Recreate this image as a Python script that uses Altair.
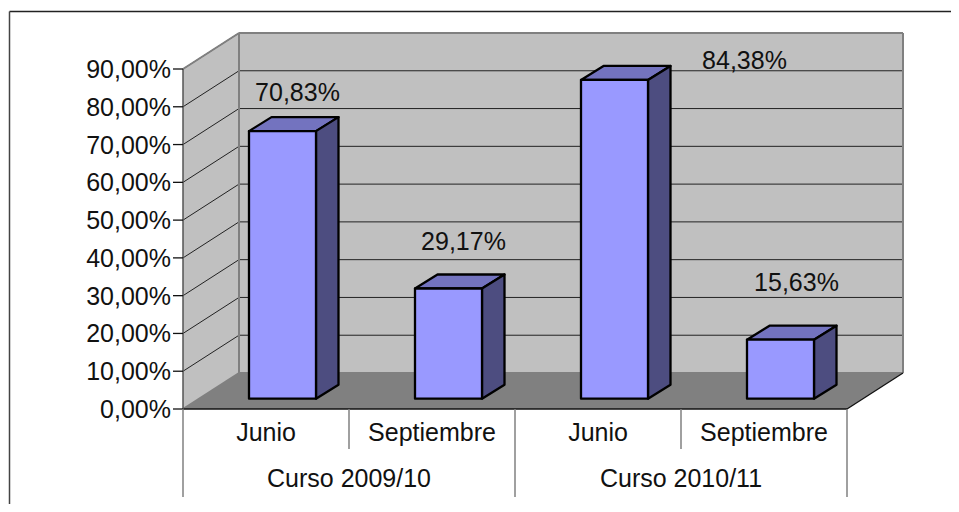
import altair as alt
import pandas as pd

GROUPS = ["Curso 2009/10", "Curso 2010/11"]
MONTHS = ["Junio", "Septiembre", "Junio", "Septiembre"]
VALUES = [70.83, 29.17, 84.38, 15.63]
VALUE_TEXT = ["70,83%", "29,17%", "84,38%", "15,63%"]
TICKS = [0, 10, 20, 30, 40, 50, 60, 70, 80, 90]
TICK_TEXT = ["0,00%", "10,00%", "20,00%", "30,00%", "40,00%", "50,00%", "60,00%", "70,00%", "80,00%", "90,00%"]

W, H = 943, 496
# scale layout, in pixels of the chart
X0, CAT = 175, 166
Y0, UNIT = 401, 340 / 90
DX, DY = 56 / CAT, 36 / UNIT            # wall depth in data units
BAR_W = 67 / CAT
BAR_SX, BAR_SY = 16.5 / CAT, 10.3 / UNIT   # bar offset from the front plane
BAR_DX, BAR_DY = 22.5 / CAT, 14 / UNIT     # bar depth
LABEL_OFF = [(15, -31), (15, -40), (130, -12), (16, -50)]

xs = alt.Scale(domain=[-X0 / CAT, (W - X0) / CAT], range=[0, W], nice=False, zero=False)
ys = alt.Scale(domain=[(Y0 - H) / UNIT, Y0 / UNIT], range=[H, 0], nice=False, zero=False)
X = lambda f="x": alt.X(f"{f}:Q", scale=xs, axis=None, stack=None)
Y = lambda f="y": alt.Y(f"{f}:Q", scale=ys, axis=None, stack=None)
X2 = alt.X2("x2:Q")
Y2 = alt.Y2("y2:Q")
FONT = "Liberation Sans"
FS = 25
INK = "#111111"
N = len(VALUES)
TOP = TICKS[-1]


def side_area(rows, color, **kw):
    return alt.Chart(pd.DataFrame(rows)).mark_area(color=color, **kw).encode(
        x=X(), y=Y(), y2=Y2, detail="id:N")


def flat_area(rows, color, **kw):
    return alt.Chart(pd.DataFrame(rows)).mark_area(color=color, orient="horizontal", **kw).encode(
        y=Y(), x=X(), x2=X2, detail="id:N")


def segs(rows, color, width):
    return alt.Chart(pd.DataFrame(rows, columns=["x", "y", "x2", "y2"])).mark_rule(
        color=color, strokeWidth=width).encode(x=X(), y=Y(), x2=X2, y2=Y2)


layers = []
# walls
layers.append(alt.Chart(pd.DataFrame([dict(x=DX, x2=N + DX, y=DY, y2=TOP + DY)])).mark_rect(
    color="#C0C0C0").encode(x=X(), x2=X2, y=Y(), y2=Y2))
layers.append(side_area([dict(id=0, x=0, y=0, y2=TOP), dict(id=0, x=DX, y=DY, y2=TOP + DY)], "#C0C0C0"))
layers.append(flat_area([dict(id=0, y=0, x=0, x2=N), dict(id=0, y=DY, x=DX, x2=N + DX)], "#808080"))
# gridlines
grid = [t for t in TICKS if t > 0]
layers.append(segs([(0, t, DX, t + DY) for t in grid] + [(DX, t + DY, N + DX, t + DY) for t in grid], "#222222", 1))
# wall edges
layers.append(segs([(DX, DY, DX, TOP + DY), (DX, TOP + DY, N + DX, TOP + DY), (N + DX, DY, N + DX, TOP + DY),
                    (0, TOP, DX, TOP + DY), (0, 0, DX, DY), (DX, DY, N + DX, DY)], "#808080", 2))
# floor edges and axis
layers.append(segs([(0, 0, N, 0), (N, 0, N + DX, DY)], "#111111", 1.3))
layers.append(segs([(0, 0, 0, TOP)], "#555555", 1.5))
layers.append(segs([(-10 / CAT, t, 0, t) for t in TICKS], "#111111", 1.3))

# multi-level category separators
y_short, y_long = -40 / UNIT, -88 / UNIT
layers.append(segs([(i, 0, i, y_long if i % 2 == 0 else y_short) for i in range(N + 1)], "#808080", 1.5))

# bars
top_rows, side_rows, front_rows = [], [], []
for i, v in enumerate(VALUES):
    x0 = i + 0.5 - BAR_W / 2 + BAR_SX
    x1 = x0 + BAR_W
    base = BAR_SY
    top = BAR_SY + v
    top_rows += [dict(id=i, y=top, x=x0, x2=x1), dict(id=i, y=top + BAR_DY, x=x0 + BAR_DX, x2=x1 + BAR_DX)]
    side_rows += [dict(id=i, x=x1, y=base, y2=top), dict(id=i, x=x1 + BAR_DX, y=base + BAR_DY, y2=top + BAR_DY)]
    front_rows.append(dict(x=x0, x2=x1, y=base, y2=top))
edge = dict(stroke="#000000", strokeWidth=2.3, strokeJoin="round")
layers.append(flat_area(top_rows, "#7373BF", **edge))
layers.append(side_area(side_rows, "#4D4D80", **edge))
layers.append(alt.Chart(pd.DataFrame(front_rows)).mark_rect(color="#9999FF", **edge).encode(
    x=X(), x2=X2, y=Y(), y2=Y2))

# y tick labels
layers.append(alt.Chart(pd.DataFrame({"y": TICKS, "t": TICK_TEXT, "x": [0] * len(TICKS)})).mark_text(
    align="right", baseline="middle", font=FONT, fontSize=FS, color=INK, dx=-12, dy=1).encode(
    x=X(), y=Y(), text="t:N"))

# value labels
for i, v in enumerate(VALUES):
    dx, dy = LABEL_OFF[i]
    layers.append(alt.Chart(pd.DataFrame([dict(x=i + 0.5, y=v + BAR_SY, t=VALUE_TEXT[i])])).mark_text(
        align="center", baseline="alphabetic", font=FONT, fontSize=FS, color=INK,
        dx=dx + 16.5, dy=dy + 1).encode(x=X(), y=Y(), text="t:N"))

# category labels
layers.append(alt.Chart(pd.DataFrame({"x": [i + 0.5 for i in range(N)], "t": MONTHS})).mark_text(
    align="center", baseline="alphabetic", font=FONT, fontSize=FS, color=INK).encode(
    x=X(), y=alt.value(433), text="t:N"))
layers.append(alt.Chart(pd.DataFrame({"x": [1, 3], "t": GROUPS})).mark_text(
    align="center", baseline="alphabetic", font=FONT, fontSize=FS, color=INK).encode(
    x=X(), y=alt.value(479), text="t:N"))

# outer frame
layers.append(alt.Chart(pd.DataFrame({"a": [0]})).mark_rule(color="#222222", strokeWidth=1.5).encode(
    x=alt.value(1.5), x2=alt.value(W), y=alt.value(3.5), y2=alt.value(3.5)))
layers.append(alt.Chart(pd.DataFrame({"a": [0]})).mark_rule(color="#444444", strokeWidth=1.5).encode(
    x=alt.value(1.5), y=alt.value(3.5), y2=alt.value(H)))

chart = alt.layer(*layers).properties(
    width=W, height=H, padding=0, autosize=alt.AutoSizeParams(type="none"),
    background="#FFFFFF",
).configure_view(stroke=None)
chart.save("out.html", embed_options={"renderer": "svg", "actions": False})
